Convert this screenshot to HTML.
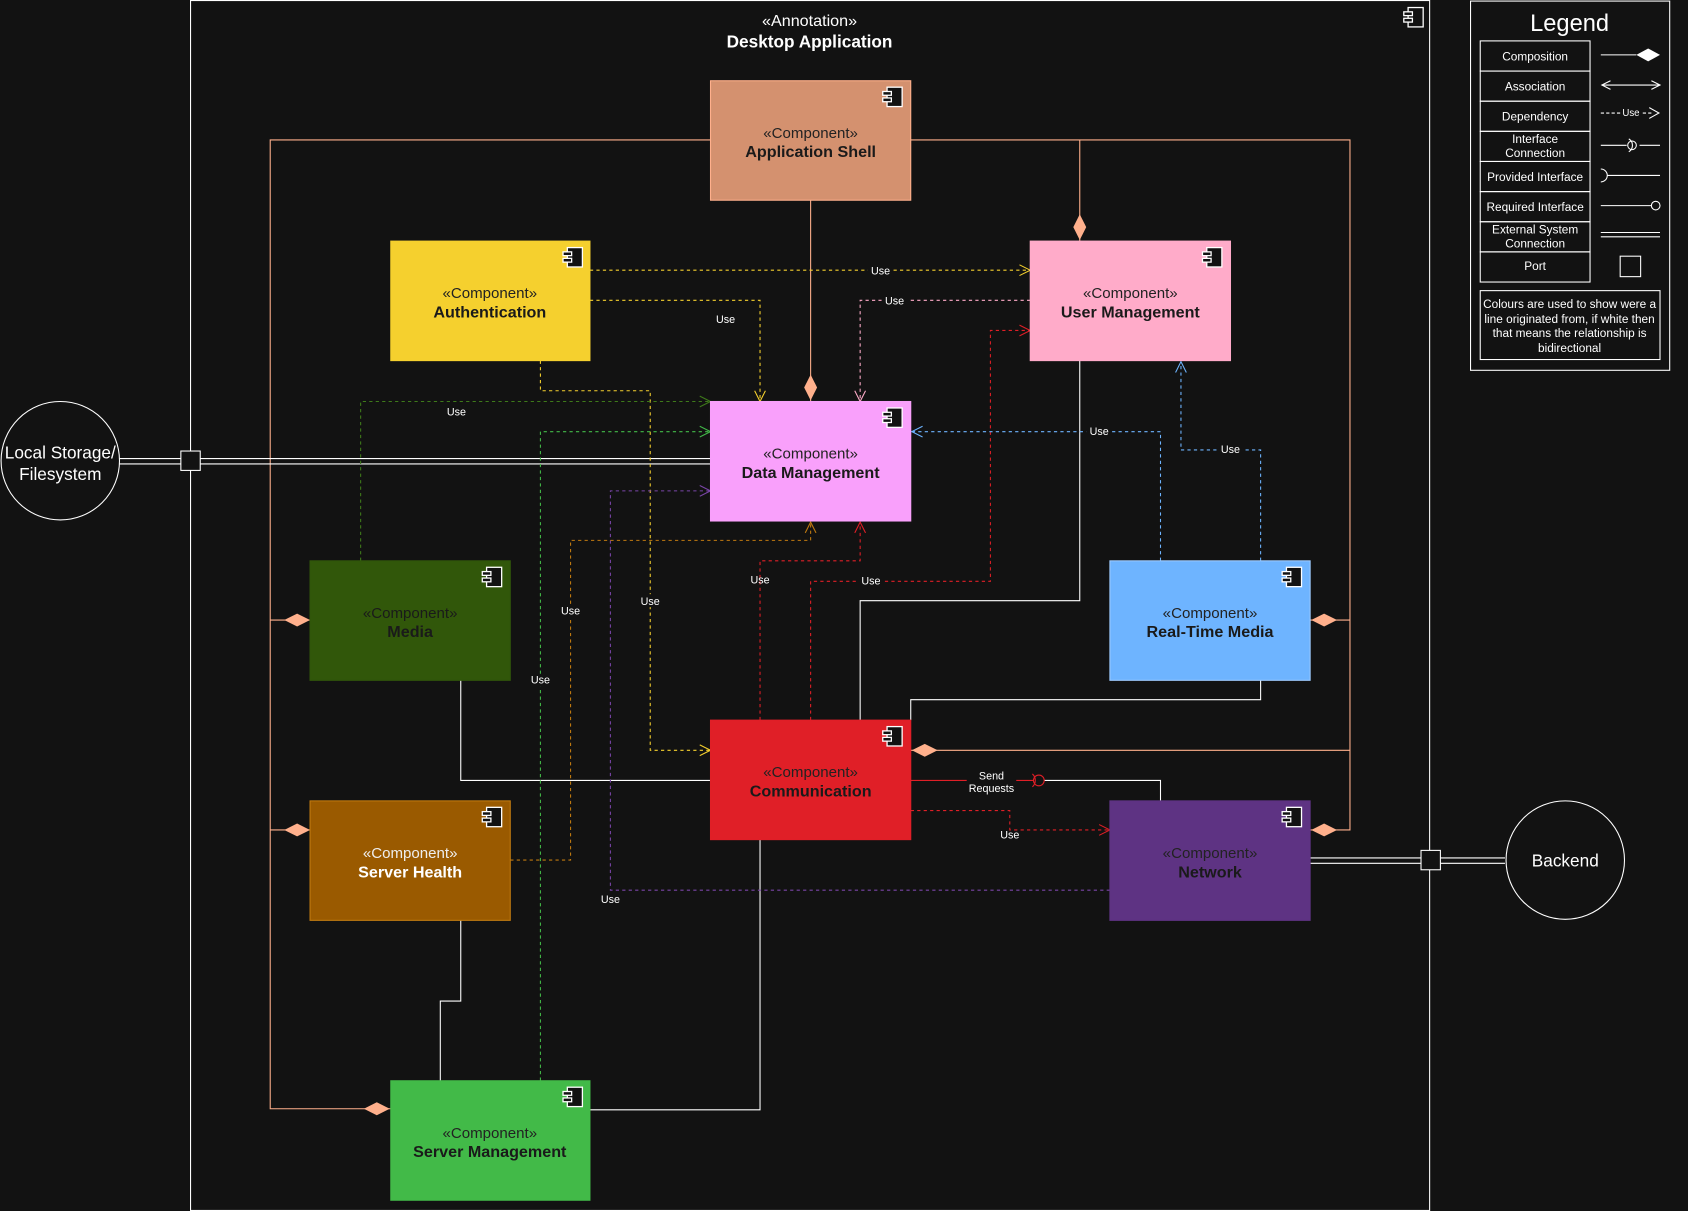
<!DOCTYPE html>
<html><head><meta charset="utf-8"><style>
html,body{margin:0;padding:0;background:#121212;}
svg{display:block;}
text{font-family:"Liberation Sans",sans-serif;}
</style></head><body>
<svg width="1688" height="1211" viewBox="0 0 1568 1125" preserveAspectRatio="none" xmlns="http://www.w3.org/2000/svg">
<defs>
<marker id="ao" viewBox="0 0 12 12" refX="11" refY="6" markerWidth="12" markerHeight="12" markerUnits="userSpaceOnUse" orient="auto"><path d="M1,1 L11,6 L1,11" fill="none" stroke="context-stroke" stroke-width="1"/></marker>
</defs>
<rect width="1568" height="1125" fill="#121212"/>
<!-- frame -->
<rect x="177" y="0.5" width="1151" height="1124" fill="none" stroke="#fff"/>
<g fill="#121212" stroke="#fff" stroke-width="1.2"><rect x="1308" y="7" width="14" height="18"/><rect x="1304" y="11" width="8" height="3.5"/><rect x="1304" y="17" width="8" height="3.5"/></g>
<text x="752" y="24" fill="#fff" font-size="15" text-anchor="middle">«Annotation»</text>
<text x="752" y="44" fill="#fff" font-size="16" font-weight="bold" text-anchor="middle">Desktop Application</text>

<!-- composition lines -->
<g stroke="#FFB08C" fill="none" stroke-width="1">
<polyline points="660,130 251,130 251,1030 363,1030"/>
<line x1="251" y1="576" x2="288" y2="576"/><line x1="251" y1="771" x2="288" y2="771"/>
<polyline points="846,130 1254,130 1254,771 1217,771"/>
<line x1="1254" y1="576" x2="1217" y2="576"/><line x1="1254" y1="697" x2="846" y2="697"/>
<line x1="1003" y1="130" x2="1003" y2="224"/>
<line x1="753" y1="186" x2="753" y2="373"/>
</g>
<g fill="#FFB08C">
<path d="M338,1030 L350,1024 L362,1030 L350,1036Z"/>
<path d="M264,576 L276,570 L288,576 L276,582Z"/>
<path d="M264,771 L276,765 L288,771 L276,777Z"/>
<path d="M1218,576 L1230,570 L1242,576 L1230,582Z"/>
<path d="M1218,771 L1230,765 L1242,771 L1230,777Z"/>
<path d="M847,697 L859,691 L871,697 L859,703Z"/>
<path d="M1003,199 L1009,211 L1003,223 L997,211Z"/>
<path d="M753,348 L759,360 L753,372 L747,360Z"/>
</g>

<!-- white lines -->
<g stroke="#fff" fill="none" stroke-width="1">
<line x1="111" y1="426" x2="660" y2="426"/><line x1="111" y1="431" x2="660" y2="431"/>
<line x1="1217" y1="797" x2="1398" y2="797"/><line x1="1217" y1="802" x2="1398" y2="802"/>
<polyline points="428,632 428,725 660,725"/>
<polyline points="428,855 428,930 409,930 409,1004"/>
<polyline points="706,780 706,1031 548,1031"/>
<polyline points="1003,335 1003,558 799,558 799,669"/>
<polyline points="1171,632 1171,650 846,650 846,669"/>
<polyline points="970,725 1078,725 1078,744"/>
</g>
<line x1="846" y1="725" x2="960" y2="725" stroke="#E01F27"/>
<circle cx="965" cy="725" r="5" fill="none" stroke="#E01F27"/>
<path d="M959,719 A8,8 0 0 1 959,731" fill="none" stroke="#E01F27"/>
<rect x="898" y="714" width="46" height="26" fill="#121212"/>
<text x="921" y="724" fill="#fff" font-size="10" text-anchor="middle">Send</text>
<text x="921" y="736" fill="#fff" font-size="10" text-anchor="middle">Requests</text>
<rect x="168" y="419" width="18" height="18" fill="#121212" stroke="#fff"/>
<rect x="1320" y="790" width="18" height="18" fill="#121212" stroke="#fff"/>
<circle cx="56" cy="428" r="55" fill="#121212" stroke="#fff"/>
<text x="56" y="426" fill="#fff" font-size="16" text-anchor="middle">Local Storage/</text>
<text x="56" y="446" fill="#fff" font-size="16" text-anchor="middle">Filesystem</text>
<circle cx="1454" cy="799" r="55" fill="#121212" stroke="#fff"/>
<text x="1454" y="805" fill="#fff" font-size="16" text-anchor="middle">Backend</text>

<!-- dashed dependencies -->
<g fill="none" stroke-dasharray="3,3" stroke-width="1" marker-end="url(#ao)">
<polyline stroke="#F5D02E" points="548,251 957,251"/>
<polyline stroke="#F5D02E" points="548,279 706,279 706,373"/>
<polyline stroke="#F5D02E" points="502,335 502,363 604,363 604,697 660,697"/>
<polyline stroke="#FFABC9" points="957,279 799,279 799,373"/>
<polyline stroke="#3E7A1A" points="335,521 335,373 660,373"/>
<polyline stroke="#42BA48" points="502,1004 502,401 660,401"/>
<polyline stroke="#7A45A8" points="1031,827 567,827 567,456 660,456"/>
<polyline stroke="#C07A10" points="474,799 530,799 530,502 753,502 753,485"/>
<polyline stroke="#E01F27" points="706,669 706,521 799,521 799,485"/>
<polyline stroke="#E01F27" points="753,669 753,540 920,540 920,307 957,307"/>
<polyline stroke="#E01F27" points="846,753 938,753 938,771 1031,771"/>
<polyline stroke="#6EB4FF" points="1078,521 1078,401 847,401"/>
<polyline stroke="#6EB4FF" points="1171,521 1171,418 1097,418 1097,336"/>
</g>
<g font-size="10" fill="#fff" text-anchor="middle">
<rect x="806" y="245" width="24" height="12" fill="#121212"/><text x="818" y="255">Use</text>
<text x="674" y="300">Use</text>
<rect x="592" y="552" width="24" height="12" fill="#121212"/><text x="604" y="562">Use</text>
<rect x="819" y="274" width="24" height="12" fill="#121212"/><text x="831" y="283">Use</text>
<text x="424" y="386">Use</text>
<rect x="490" y="626" width="24" height="12" fill="#121212"/><text x="502" y="635">Use</text>
<text x="567" y="839">Use</text>
<rect x="518" y="562" width="24" height="12" fill="#121212"/><text x="530" y="571">Use</text>
<text x="706" y="542">Use</text>
<rect x="797" y="534" width="24" height="12" fill="#121212"/><text x="809" y="543">Use</text>
<text x="938" y="779">Use</text>
<rect x="1009" y="395" width="24" height="12" fill="#121212"/><text x="1021" y="404">Use</text>
<rect x="1131" y="412" width="24" height="12" fill="#121212"/><text x="1143" y="421">Use</text>
</g>

<!-- components -->
<g font-size="14" text-anchor="middle">
<g><rect x="660" y="75" width="186" height="111" fill="#D4916F" stroke="#FFB08C"/><text x="753" y="128" fill="#222">«Component»</text><text x="753" y="146" fill="#1a1a1a" font-weight="bold" font-size="15">Application Shell</text></g>
<g><rect x="363" y="224" width="185" height="111" fill="#F5D02E" stroke="#F5D02E"/><text x="455" y="277" fill="#222">«Component»</text><text x="455" y="295" fill="#1a1a1a" font-weight="bold" font-size="15">Authentication</text></g>
<g><rect x="957" y="224" width="186" height="111" fill="#FFABC9" stroke="#FFABC9"/><text x="1050" y="277" fill="#222">«Component»</text><text x="1050" y="295" fill="#1a1a1a" font-weight="bold" font-size="15">User Management</text></g>
<g><rect x="660" y="373" width="186" height="111" fill="#F9A0FB" stroke="#F9A0FB"/><text x="753" y="426" fill="#222">«Component»</text><text x="753" y="444" fill="#1a1a1a" font-weight="bold" font-size="15">Data Management</text></g>
<g><rect x="288" y="521" width="186" height="111" fill="#31570A" stroke="#31570A"/><text x="381" y="574" fill="#1a1a1a">«Component»</text><text x="381" y="592" fill="#1a1a1a" font-weight="bold" font-size="15">Media</text></g>
<g><rect x="1031" y="521" width="186" height="111" fill="#6EB4FF" stroke="#9ECBFF"/><text x="1124" y="574" fill="#222">«Component»</text><text x="1124" y="592" fill="#1a1a1a" font-weight="bold" font-size="15">Real-Time Media</text></g>
<g><rect x="660" y="669" width="186" height="111" fill="#E01F27" stroke="#E01F27"/><text x="753" y="722" fill="#222">«Component»</text><text x="753" y="740" fill="#1a1a1a" font-weight="bold" font-size="15">Communication</text></g>
<g><rect x="288" y="744" width="186" height="111" fill="#9A5A00" stroke="#C07A10"/><text x="381" y="797" fill="#eee">«Component»</text><text x="381" y="815" fill="#fff" font-weight="bold" font-size="15">Server Health</text></g>
<g><rect x="1031" y="744" width="186" height="111" fill="#5E3383" stroke="#5E3383"/><text x="1124" y="797" fill="#222">«Component»</text><text x="1124" y="815" fill="#1a1a1a" font-weight="bold" font-size="15">Network</text></g>
<g><rect x="363" y="1004" width="185" height="111" fill="#42BA48" stroke="#42BA48"/><text x="455" y="1057" fill="#222">«Component»</text><text x="455" y="1075" fill="#1a1a1a" font-weight="bold" font-size="15">Server Management</text></g>
</g>
<g fill="#121212" stroke="#fff" stroke-width="1.2">
<g transform="translate(820,81)"><rect x="4" y="0" width="14" height="18"/><rect x="0" y="4" width="8" height="3.5"/><rect x="0" y="10" width="8" height="3.5"/></g>
<g transform="translate(523,230)"><rect x="4" y="0" width="14" height="18"/><rect x="0" y="4" width="8" height="3.5"/><rect x="0" y="10" width="8" height="3.5"/></g>
<g transform="translate(1117,230)"><rect x="4" y="0" width="14" height="18"/><rect x="0" y="4" width="8" height="3.5"/><rect x="0" y="10" width="8" height="3.5"/></g>
<g transform="translate(820,379)"><rect x="4" y="0" width="14" height="18"/><rect x="0" y="4" width="8" height="3.5"/><rect x="0" y="10" width="8" height="3.5"/></g>
<g transform="translate(448,527)"><rect x="4" y="0" width="14" height="18"/><rect x="0" y="4" width="8" height="3.5"/><rect x="0" y="10" width="8" height="3.5"/></g>
<g transform="translate(1191,527)"><rect x="4" y="0" width="14" height="18"/><rect x="0" y="4" width="8" height="3.5"/><rect x="0" y="10" width="8" height="3.5"/></g>
<g transform="translate(820,675)"><rect x="4" y="0" width="14" height="18"/><rect x="0" y="4" width="8" height="3.5"/><rect x="0" y="10" width="8" height="3.5"/></g>
<g transform="translate(448,750)"><rect x="4" y="0" width="14" height="18"/><rect x="0" y="4" width="8" height="3.5"/><rect x="0" y="10" width="8" height="3.5"/></g>
<g transform="translate(1191,750)"><rect x="4" y="0" width="14" height="18"/><rect x="0" y="4" width="8" height="3.5"/><rect x="0" y="10" width="8" height="3.5"/></g>
<g transform="translate(523,1010)"><rect x="4" y="0" width="14" height="18"/><rect x="0" y="4" width="8" height="3.5"/><rect x="0" y="10" width="8" height="3.5"/></g>
</g>

<!-- legend -->
<g stroke="#fff" fill="none">
<rect x="1366" y="1" width="185" height="343"/>
<rect x="1375" y="38" width="102" height="28"/><rect x="1375" y="66" width="102" height="28"/><rect x="1375" y="94" width="102" height="28"/><rect x="1375" y="122" width="102" height="28"/><rect x="1375" y="150" width="102" height="28"/><rect x="1375" y="178" width="102" height="28"/><rect x="1375" y="206" width="102" height="28"/><rect x="1375" y="234" width="102" height="28"/>
<rect x="1375" y="270" width="167" height="64"/>
<line x1="1487" y1="51" x2="1520" y2="51"/>
<line x1="1488" y1="79" x2="1542" y2="79"/><path d="M1496,75 L1488,79 L1496,83 M1534,75 L1542,79 L1534,83"/>
<line x1="1487" y1="105" x2="1505" y2="105" stroke-dasharray="3,2"/><line x1="1526" y1="105" x2="1534" y2="105" stroke-dasharray="3,2"/><path d="M1532,100 L1541,105 L1532,110"/>
<line x1="1487" y1="135" x2="1511" y2="135"/><circle cx="1516" cy="135" r="4"/><path d="M1513,129 A7,7 0 0 1 1513,141"/><line x1="1523" y1="135" x2="1542" y2="135"/>
<path d="M1487,157 A6,6 0 0 1 1487,169"/><line x1="1493" y1="163" x2="1542" y2="163"/>
<line x1="1487" y1="191" x2="1534" y2="191"/><circle cx="1538" cy="191" r="4"/>
<line x1="1487" y1="216" x2="1542" y2="216"/><line x1="1487" y1="220" x2="1542" y2="220"/>
<rect x="1505" y="238" width="19" height="19"/>
</g>
<path d="M1520,51 L1531,45 L1542,51 L1531,57Z" fill="#fff"/>
<text x="1515" y="108" fill="#fff" font-size="9" text-anchor="middle">Use</text>
<text x="1458" y="29" fill="#fff" font-size="22" text-anchor="middle">Legend</text>
<g fill="#fff" font-size="11" text-anchor="middle">
<text x="1426" y="56">Composition</text><text x="1426" y="84">Association</text><text x="1426" y="112">Dependency</text>
<text x="1426" y="133">Interface</text><text x="1426" y="146">Connection</text>
<text x="1426" y="168">Provided Interface</text><text x="1426" y="196">Required Interface</text>
<text x="1426" y="217">External System</text><text x="1426" y="230">Connection</text>
<text x="1426" y="251">Port</text>
<text x="1458" y="286">Colours are used to show were a</text>
<text x="1458" y="300">line originated from, if white then</text>
<text x="1458" y="313">that means the relationship is</text>
<text x="1458" y="327">bidirectional</text>
</g>
</svg>
</body></html>
